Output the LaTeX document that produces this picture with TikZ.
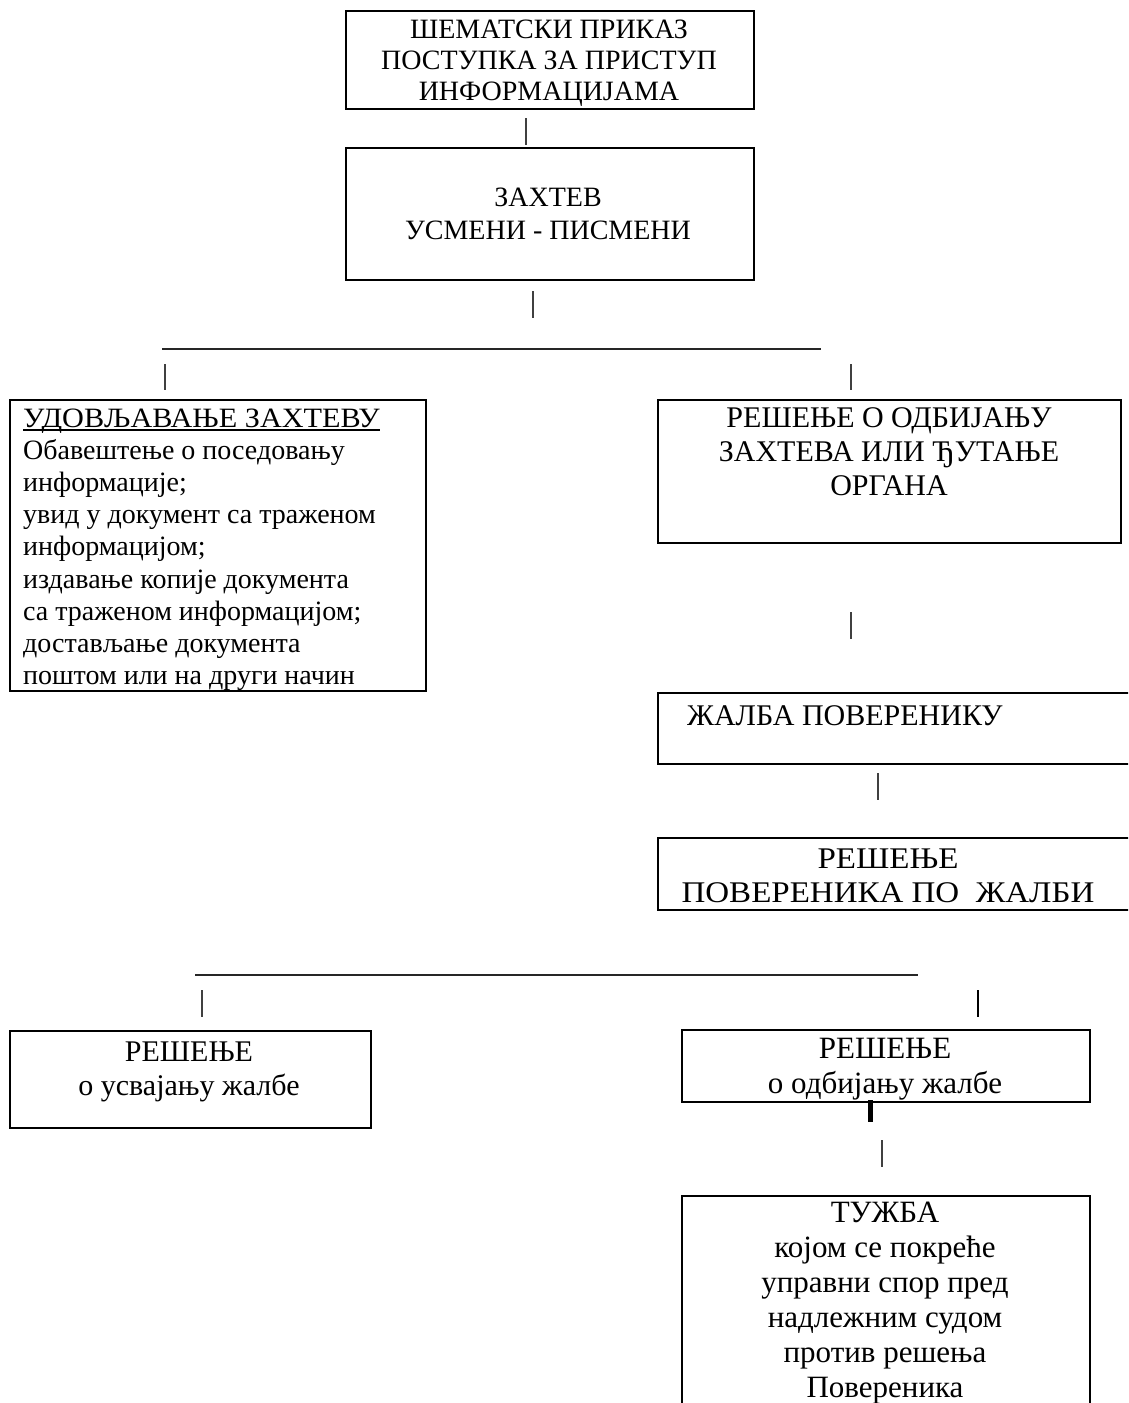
\documentclass[tikz,border=0pt]{standalone}
\usepackage{fontspec}
\setmainfont{Liberation Serif}
\newcommand\lns[2]{\begin{tabular}[t]{@{}#1@{}}#2\end{tabular}}
\begin{document}
\begin{tikzpicture}[x=1pt,y=-1pt,
  box/.style={draw,line width=2.2pt,inner sep=0pt,anchor=north west},
  txt/.style={inner sep=0pt,font=\fontsize{28}{32.25}\selectfont},
  tick/.style={line width=1.2pt,black!75},
  rulel/.style={line width=2pt,black!85}]
\useasboundingbox (0,0) rectangle (1128,1403);
\clip (0,0) rectangle (1128,1403);

% boxes
\node[box,minimum width=408pt,minimum height=98pt] (title) at (345,10) {};
\node[box,minimum width=408pt,minimum height=132pt] (zahtev) at (345,147) {};
\node[box,minimum width=416pt,minimum height=291pt] (udov) at (9,399) {};
\node[box,minimum width=463pt,minimum height=143pt] (odb) at (657,399) {};
\node[box,minimum width=490pt,minimum height=71pt] (zalba) at (657,692) {};
\node[box,minimum width=490pt,minimum height=72pt] (respov) at (657,837) {};
\node[box,minimum width=361pt,minimum height=97pt] (usv) at (9,1030) {};
\node[box,minimum width=408pt,minimum height=72pt] (odbz) at (681,1029) {};
\node[box,minimum width=408pt,minimum height=240pt] (tuzba) at (681,1195) {};

% texts
\node[txt,anchor=base,font=\fontsize{28}{31}\selectfont] (ttitle) at (549,38)
  {\lns{c}{ШЕМАТСКИ ПРИКАЗ\\ПОСТУПКА ЗА ПРИСТУП\\ИНФОРМАЦИЈАМА}};
\node[txt,anchor=base,font=\fontsize{28}{33}\selectfont] (tzahtev) at (548,206)
  {\lns{c}{ЗАХТЕВ\\УСМЕНИ - ПИСМЕНИ}};
\node[txt,anchor=base west,font={\fontsize{28}{32.25}\selectfont\addfontfeature{FakeStretch=1.08}}] (thdr) at (23,427) {УДОВЉАВАЊЕ ЗАХТЕВУ};
\draw[line width=1.5pt] ([yshift=-3pt]thdr.base west) -- ([yshift=-3pt]thdr.base east);
\node[txt,anchor=base west] (tudov) at (23,459)
  {\lns{l}{Обавештење о поседовању\\информације;\\увид у документ са траженом\\информацијом;\\издавање копије документа\\са траженом информацијом;\\достављање документа\\поштом или на други начин}};
\node[txt,anchor=base,font=\fontsize{30}{34}\selectfont] (todb) at (889,427)
  {\lns{c}{РЕШЕЊЕ О ОДБИЈАЊУ\\ЗАХТЕВА ИЛИ ЂУТАЊЕ\\ОРГАНА}};
\node[txt,anchor=base west,font=\fontsize{30}{34}\selectfont] (tzalba) at (687,725) {ЖАЛБА ПОВЕРЕНИКУ};
\node[txt,anchor=base,font={\fontsize{30}{34}\selectfont\addfontfeature{FakeStretch=1.1}}] (trespov) at (888,868)
  {\lns{c}{РЕШЕЊЕ\\ПОВЕРЕНИКА ПО\ \ ЖАЛБИ}};
\node[txt,anchor=base,font=\fontsize{30}{34}\selectfont] (tusv) at (189,1061)
  {\lns{c}{РЕШЕЊЕ\\о усвајању жалбе}};
\node[txt,anchor=base,font=\fontsize{31}{35}\selectfont] (todbz) at (885,1058)
  {\lns{c}{РЕШЕЊЕ\\о одбијању жалбе}};
\node[txt,anchor=base,font=\fontsize{31}{35}\selectfont] (ttuzba) at (885,1222)
  {\lns{c}{ТУЖБА\\којом се покреће\\управни спор пред\\надлежним судом\\против решења\\Повереника}};

% connectors
\coordinate (a1) at (526,118); \coordinate (a2) at (526,145);
\draw[tick] (a1) -- (a2);
\coordinate (b1) at (533,291); \coordinate (b2) at (533,318);
\draw[tick] (b1) -- (b2);
\coordinate (h1) at (162,349); \coordinate (h2) at (821,349);
\draw[rulel] (h1) -- (h2);
\coordinate (c1) at (165,364); \coordinate (c2) at (165,390);
\draw[tick] (c1) -- (c2);
\coordinate (d1) at (851,364); \coordinate (d2) at (851,390);
\draw[tick] (d1) -- (d2);
\coordinate (e1) at (851,612); \coordinate (e2) at (851,639);
\draw[tick] (e1) -- (e2);
\coordinate (f1) at (878,773); \coordinate (f2) at (878,800);
\draw[tick] (f1) -- (f2);
\coordinate (g1) at (195,975); \coordinate (g2) at (918,975);
\draw[rulel] (g1) -- (g2);
\coordinate (i1) at (202,990); \coordinate (i2) at (202,1017);
\draw[tick] (i1) -- (i2);
\coordinate (j1) at (978,990); \coordinate (j2) at (978,1017);
\draw[tick,line width=2pt,black] (j1) -- (j2);
\coordinate (k1) at (870,1100); \coordinate (k2) at (870,1122);
\draw[line width=5pt] (k1) -- (k2);
\coordinate (l1) at (882,1140); \coordinate (l2) at (882,1167);
\draw[tick] (l1) -- (l2);
\end{tikzpicture}
\end{document}
